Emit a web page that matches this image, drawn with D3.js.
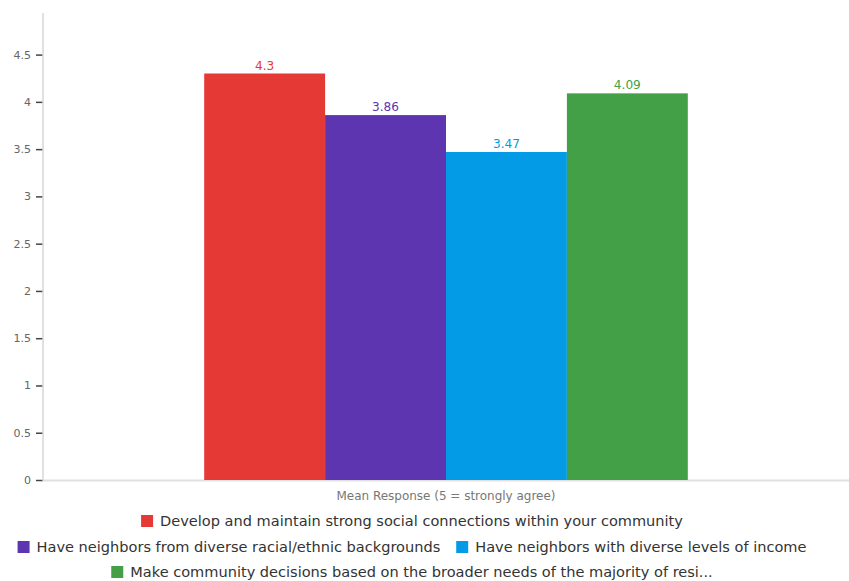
<!DOCTYPE html>
<html>
<head>
<meta charset="utf-8">
<script src="https://cdn.jsdelivr.net/npm/d3@7"></script>
<style>
  html, body { margin: 0; padding: 0; background: #fff; }
  svg { display: block; font-family: "DejaVu Sans", sans-serif; }
</style>
</head>
<body>
<svg id="chart" width="849" height="581"></svg>
<script>
const categories = ["Mean Response (5 = strongly agree)"];
const seriesNames = [
  "Develop and maintain strong social connections within your community",
  "Have neighbors from diverse racial/ethnic backgrounds",
  "Have neighbors with diverse levels of income",
  "Make community decisions based on the broader needs of the majority of resi..."
];
const seriesValues = [4.3, 3.86, 3.47, 4.09];
const seriesColors = ["#E53935", "#5E35B1", "#039BE5", "#43A047"];
const yTicks = [0, 0.5, 1, 1.5, 2, 2.5, 3, 3.5, 4, 4.5];
const legendRows = [[0], [1, 2], [3]];

(function () {
const svg = d3.select("#chart");
const FONT = "'DejaVu Sans', sans-serif";
const mLeft = 43, mRight = 849, mTop = 13, mBottom = 480;

// font size that makes a string reach a target width
function fitSize(str, target, base) {
  const t = svg.append("text").style("font-family", FONT).style("font-size", base + "px").text(str);
  const w = t.node().getComputedTextLength();
  t.remove();
  return base * target / w;
}
const legendSize = fitSize(seriesNames[0], 523, 14);
const titleSize = fitSize(categories[0], 219, 11);
const valueSize = fitSize("3.86", 27, 11);

const y = d3.scaleLinear().domain([0, 4.94]).range([mBottom, mTop]);
const x0 = d3.scaleBand().domain(categories).range([mLeft, mRight]).paddingOuter(1/3).paddingInner(0);
const x1 = d3.scaleBand().domain(d3.range(seriesValues.length)).range([0, x0.bandwidth()]).padding(0);

// x baseline
svg.append("line").attr("x1", mLeft).attr("x2", mRight).attr("y1", mBottom + 0.5).attr("y2", mBottom + 0.5)
  .attr("stroke", "#e0e0e0").attr("stroke-width", 2);

// y axis
const yAxis = d3.axisLeft(y).tickValues(yTicks).tickFormat(d => String(d)).tickSize(7).tickPadding(5);
const gy = svg.append("g").attr("transform", `translate(${mLeft},0)`).call(yAxis);
gy.select(".domain").remove();
gy.selectAll(".tick line").attr("stroke", "#444").attr("stroke-width", 1.5);
gy.selectAll(".tick text").attr("fill", "#666").style("font-size", "11px").style("font-family", FONT);
svg.append("line").attr("x1", mLeft).attr("x2", mLeft).attr("y1", mTop).attr("y2", mBottom + 1)
  .attr("stroke", "#d6d6d6").attr("stroke-width", 1.5);

// bars
const g = svg.append("g").attr("transform", `translate(${x0(categories[0])},0)`);
g.selectAll("rect").data(seriesValues).join("rect")
  .attr("x", (d, i) => x1(i))
  .attr("width", x1.bandwidth())
  .attr("y", d => y(d))
  .attr("height", d => y(0) - y(d))
  .attr("fill", (d, i) => seriesColors[i]);
g.selectAll("text.val").data(seriesValues).join("text")
  .attr("class", "val")
  .attr("x", (d, i) => x1(i) + x1.bandwidth() / 2)
  .attr("y", d => y(d) - 4)
  .attr("text-anchor", "middle")
  .attr("fill", (d, i) => seriesColors[i])
  .style("font-size", valueSize + "px")
  .style("font-family", FONT)
  .text(d => String(d));

// x axis title
svg.append("text")
  .attr("x", x0(categories[0]) + x0.bandwidth() / 2)
  .attr("y", 500)
  .attr("text-anchor", "middle")
  .attr("fill", "#777")
  .style("font-size", titleSize + "px")
  .style("font-family", FONT)
  .text(categories[0]);

// legend
const legendCenter = 412;
const rowY = [521, 547, 572];
const sq = 12, gapSqText = 7, gapItems = 16;
legendRows.forEach((row, ri) => {
  const rg = svg.append("g");
  let cx = 0;
  row.forEach(idx => {
    const ig = rg.append("g").attr("transform", `translate(${cx},0)`);
    ig.append("rect").attr("x", 0).attr("y", rowY[ri] - sq / 2).attr("width", sq).attr("height", sq)
      .attr("fill", seriesColors[idx]);
    const t = ig.append("text").attr("x", sq + gapSqText).attr("y", rowY[ri])
      .attr("dy", "0.35em").attr("fill", "#333")
      .style("font-size", legendSize + "px")
      .style("font-family", FONT)
      .text(seriesNames[idx]);
    const w = t.node().getComputedTextLength();
    cx += sq + gapSqText + w + gapItems;
  });
  const total = cx - gapItems;
  rg.attr("transform", `translate(${legendCenter - total / 2},0)`);
});
})();
</script>
</body>
</html>
